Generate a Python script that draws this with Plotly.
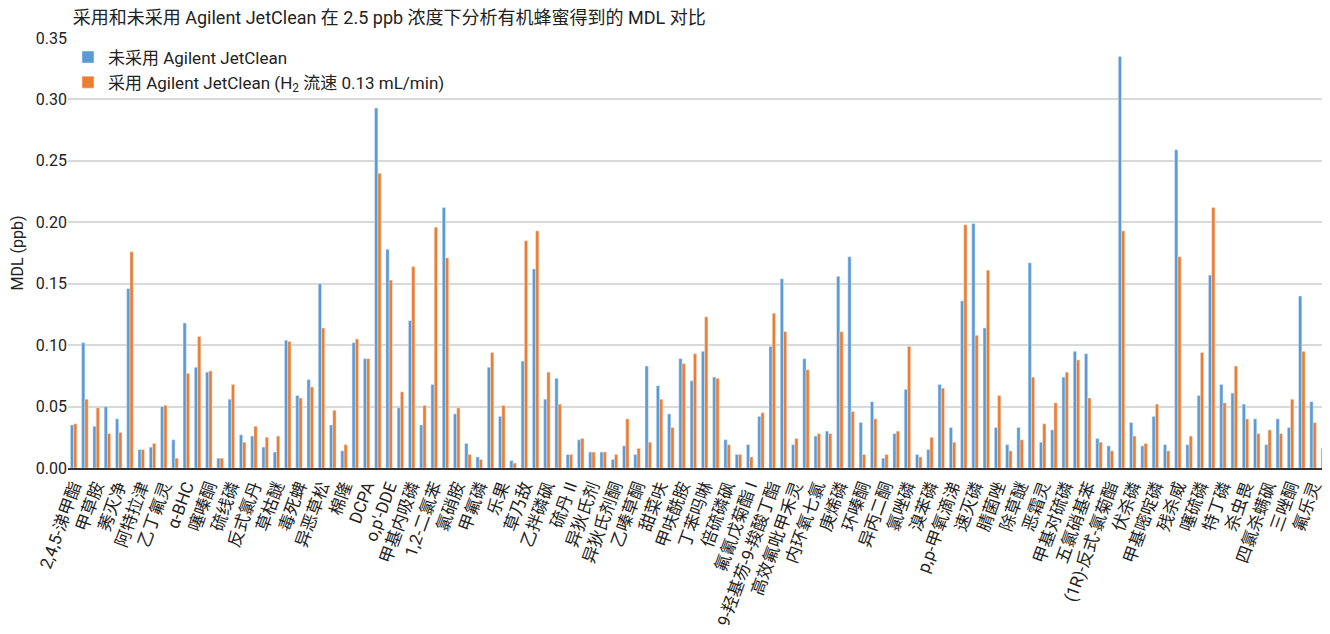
import plotly.graph_objects as go

title_text = "采用和未采用 Agilent JetClean 在 2.5 ppb 浓度下分析有机蜂蜜得到的 MDL 对比"
series_names = ["未采用 Agilent JetClean", "采用 Agilent JetClean (H<sub>2</sub> 流速 0.13 mL/min)"]

labels = [
    "2,4,5-涕甲酯", "甲草胺", "莠灭净", "阿特拉津", "乙丁氟灵", "α-BHC", "噻嗪酮", "硫线磷",
    "反式氯丹", "草枯醚", "毒死蜱", "异恶草松", "棉隆", "DCPA", "o,p'-DDE", "甲基内吸磷",
    "1,2-二氯苯", "氯硝胺", "甲氟磷", "乐果", "草乃敌", "乙拌磷砜", "硫丹 II", "异狄氏剂",
    "异狄氏剂酮", "乙嗪草酮", "甜菜呋", "甲呋酰胺", "丁苯吗啉", "倍硫磷砜", "氟氰戊菊酯 I",
    "9-羟基芴-9-羧酸丁酯", "高效氟吡甲禾灵", "内环氧七氯", "庚烯磷", "环嗪酮", "异丙二酮",
    "氯唑磷", "溴苯磷", "p,p-甲氧滴涕", "速灭磷", "腈菌唑", "除草醚", "恶霜灵", "甲基对硫磷",
    "五氯硝基苯", "(1R)-反式-氯菊酯", "伏杀磷", "甲基嘧啶磷", "残杀威", "噻硫磷", "特丁磷",
    "杀虫畏", "四氯杀螨砜", "三唑酮", "氟乐灵",
]

without_jetclean = [
    0.035, 0.102, 0.034, 0.050, 0.040, 0.146, 0.015, 0.017, 0.050, 0.023,
    0.118, 0.082, 0.078, 0.008, 0.056, 0.027, 0.026, 0.017, 0.013, 0.104,
    0.059, 0.072, 0.150, 0.035, 0.014, 0.102, 0.089, 0.293, 0.178, 0.049,
    0.120, 0.035, 0.068, 0.212, 0.044, 0.020, 0.009, 0.082, 0.042, 0.006,
    0.087, 0.162, 0.056, 0.073, 0.011, 0.023, 0.013, 0.013, 0.007, 0.018,
    0.011, 0.083, 0.067, 0.044, 0.089, 0.071, 0.095, 0.074, 0.023, 0.011,
    0.019, 0.042, 0.099, 0.154, 0.019, 0.089, 0.026, 0.030, 0.156, 0.172,
    0.037, 0.054, 0.008, 0.028, 0.064, 0.011, 0.015, 0.068, 0.033, 0.136,
    0.199, 0.114, 0.033, 0.019, 0.033, 0.167, 0.021, 0.031, 0.074, 0.095,
    0.093, 0.024, 0.018, 0.335, 0.037, 0.018, 0.042, 0.019, 0.259, 0.019,
    0.059, 0.157, 0.068, 0.061, 0.052, 0.040, 0.019, 0.040, 0.033, 0.140,
    0.054, 0.016,
]

with_jetclean = [
    0.036, 0.056, 0.049, 0.028, 0.029, 0.176, 0.015, 0.020, 0.051, 0.008,
    0.077, 0.107, 0.079, 0.008, 0.068, 0.021, 0.034, 0.025, 0.026, 0.103,
    0.057, 0.066, 0.114, 0.047, 0.019, 0.105, 0.089, 0.240, 0.153, 0.062,
    0.164, 0.051, 0.196, 0.171, 0.049, 0.011, 0.007, 0.094, 0.051, 0.004,
    0.185, 0.193, 0.078, 0.052, 0.011, 0.024, 0.013, 0.013, 0.011, 0.040,
    0.016, 0.021, 0.056, 0.033, 0.085, 0.093, 0.123, 0.073, 0.019, 0.011,
    0.009, 0.045, 0.126, 0.111, 0.024, 0.080, 0.028, 0.028, 0.111, 0.046,
    0.011, 0.040, 0.011, 0.030, 0.099, 0.009, 0.025, 0.065, 0.021, 0.198,
    0.108, 0.161, 0.059, 0.014, 0.023, 0.074, 0.036, 0.053, 0.078, 0.088,
    0.057, 0.021, 0.014, 0.193, 0.026, 0.020, 0.052, 0.014, 0.172, 0.026,
    0.094, 0.212, 0.053, 0.083, 0.040, 0.028, 0.031, 0.028, 0.056, 0.095,
    0.037, 0.011,
]

y_ticks = [0.00, 0.05, 0.10, 0.15, 0.20, 0.25, 0.30, 0.35]

n = len(without_jetclean)
x_idx = list(range(n))
tick_positions = x_idx[::2]

FONT = "Roboto, Noto Sans CJK SC, sans-serif"
TXT = "#222222"

fig = go.Figure()
fig.add_trace(go.Bar(x=x_idx, y=without_jetclean, name=series_names[0], marker_color="#5B9BD5"))
fig.add_trace(go.Bar(x=x_idx, y=with_jetclean, name=series_names[1], marker_color="#ED7D31"))

fig.update_layout(
    width=1322, height=626,
    margin=dict(l=60, r=0, t=30, b=166, autoexpand=False),
    paper_bgcolor="white", plot_bgcolor="white",
    barmode="group", bargap=0.42, bargroupgap=0.0,
    font=dict(family=FONT, size=16, color=TXT),
    title=dict(text=title_text, x=0.049, xanchor="left", y=0.984, yanchor="middle",
               font=dict(family=FONT, size=18, color=TXT)),
    legend=dict(x=0.0, y=0.9965, xanchor="left", yanchor="top",
                bgcolor="rgba(0,0,0,0)", font=dict(family=FONT, size=17, color=TXT),
                tracegroupgap=6, itemwidth=30),
    xaxis=dict(
        range=[-0.5, n - 0.5], tickmode="array", tickvals=tick_positions, ticktext=labels,
        tickangle=-70, showgrid=False, showline=True, linecolor="#333333", linewidth=1.5,
        ticks="", tickfont=dict(family=FONT, size=17, color=TXT), zeroline=False,
        automargin=False,
    ),
    yaxis=dict(
        range=[0, 0.35], tickmode="array", tickvals=y_ticks, tickformat=".2f",
        showgrid=True, gridcolor="#D9D9D9", gridwidth=1.5, zeroline=False,
        title=dict(text="MDL (ppb)", font=dict(family=FONT, size=16, color=TXT), standoff=10),
        tickfont=dict(family=FONT, size=16, color=TXT), automargin=False,
    ),
)

fig.write_html("out.html")
